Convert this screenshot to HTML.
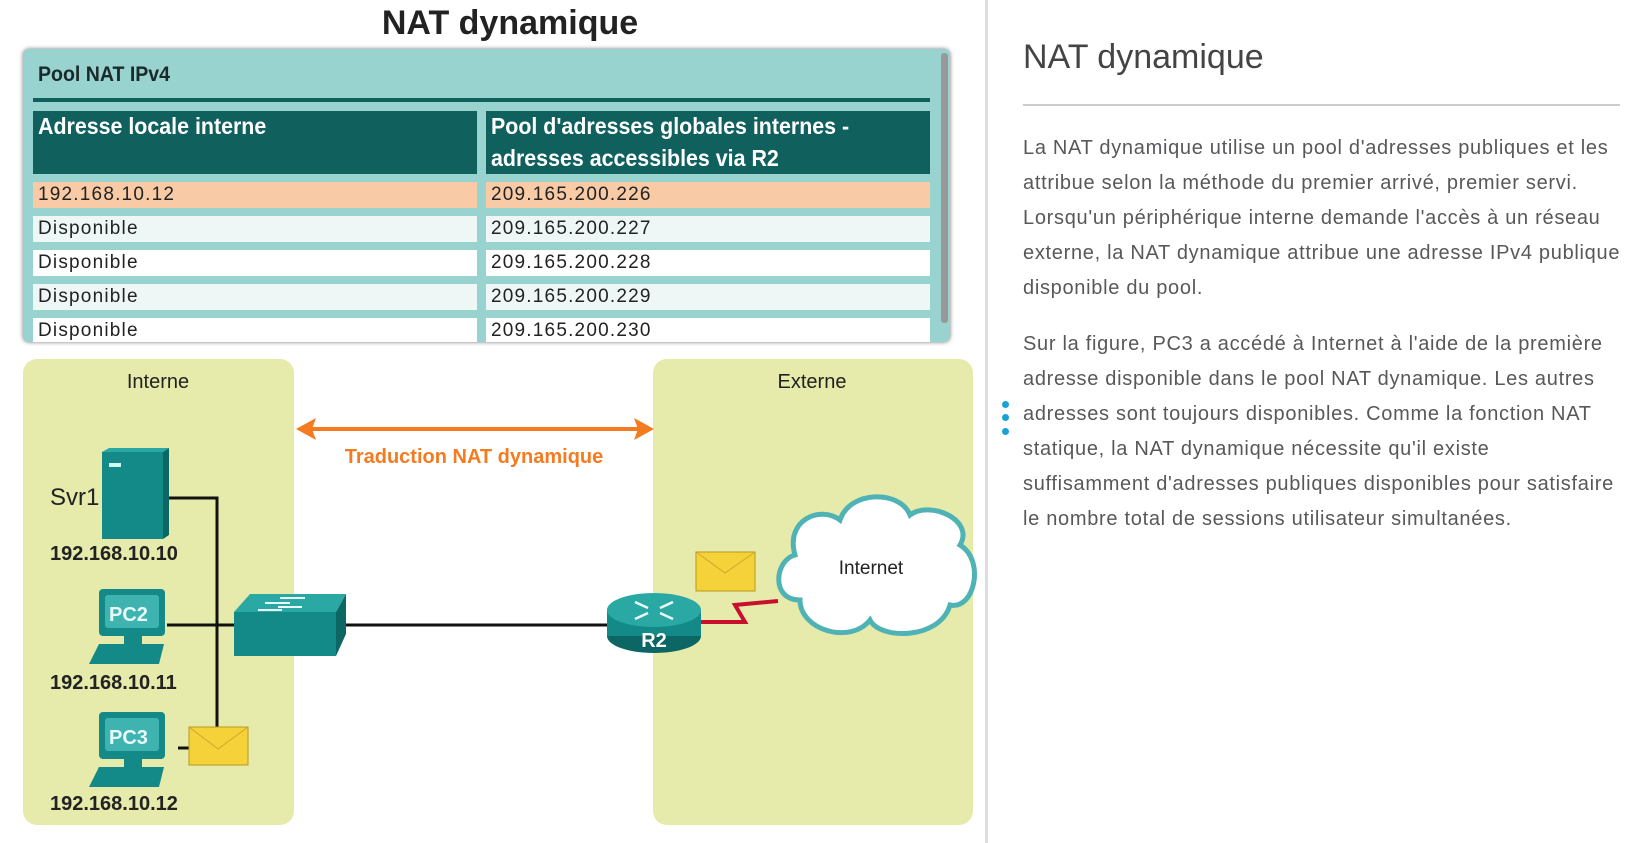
<!DOCTYPE html>
<html><head><meta charset="utf-8"><style>
body{margin:0;width:1634px;height:843px;background:#fff;font-family:"Liberation Sans",sans-serif;position:relative;overflow:hidden}
.a{position:absolute;white-space:nowrap}
.p{position:absolute;left:1023px;font-size:20px;letter-spacing:0.7px;color:#58585b;white-space:nowrap;line-height:35px}
.c{position:absolute;height:26px;font-size:19px;letter-spacing:1.2px;line-height:26px;color:#222;padding-left:5px;box-sizing:border-box}
</style></head><body>
<div class="a" style="left:0;width:1020px;top:4px;text-align:center;font-size:34px;font-weight:bold;color:#222">NAT dynamique</div>
<div class="a" style="left:23px;top:49px;width:927px;height:293px;background:#98d3d0;border-radius:6px;box-shadow:0 0 4px #777;overflow:hidden">
 <div class="a" style="left:15px;top:14px;font-size:21px;font-weight:bold;color:#1a2a2a;transform:scaleX(0.93);transform-origin:left">Pool NAT IPv4</div>
 <div class="a" style="left:10px;top:49px;width:897px;height:4px;background:#0f5f5c"></div>
 <div class="a" style="left:10px;top:62px;width:444px;height:63px;background:#10615e"></div>
 <div class="a" style="left:463px;top:62px;width:444px;height:63px;background:#10615e"></div>
 <div class="a" style="left:15px;top:61px;font-size:23px;font-weight:bold;color:#fff;line-height:32px;transform:scaleX(0.93);transform-origin:left">Adresse locale interne</div>
 <div class="a" style="left:468px;top:61px;font-size:23px;font-weight:bold;color:#fff;line-height:32px;transform:scaleX(0.93);transform-origin:left">Pool d'adresses globales internes -<br>adresses accessibles via R2</div>
 <div class="c" style="left:10px;top:133px;width:444px;background:#f8caa6">192.168.10.12</div>
 <div class="c" style="left:463px;top:133px;width:444px;background:#f8caa6">209.165.200.226</div>
 <div class="c" style="left:10px;top:167px;width:444px;background:#eef7f6">Disponible</div>
 <div class="c" style="left:463px;top:167px;width:444px;background:#eef7f6">209.165.200.227</div>
 <div class="c" style="left:10px;top:201px;width:444px;background:#fff">Disponible</div>
 <div class="c" style="left:463px;top:201px;width:444px;background:#fff">209.165.200.228</div>
 <div class="c" style="left:10px;top:235px;width:444px;background:#eef7f6">Disponible</div>
 <div class="c" style="left:463px;top:235px;width:444px;background:#eef7f6">209.165.200.229</div>
 <div class="c" style="left:10px;top:269px;width:444px;background:#fff">Disponible</div>
 <div class="c" style="left:463px;top:269px;width:444px;background:#fff">209.165.200.230</div>
 <div class="a" style="left:918px;top:4px;width:7px;height:270px;background:#999;border-radius:3px"></div>
</div>
<div class="a" style="left:985px;top:0;width:3px;height:843px;background:#ddd"></div>
<svg class="a" style="left:0;top:0" width="985" height="843">
 <rect x="23" y="359" width="271" height="466" rx="14" fill="#e6eaaa"/>
 <rect x="653" y="359" width="320" height="466" rx="14" fill="#e6eaaa"/>
 <text x="158" y="388" font-size="20" text-anchor="middle" fill="#222" font-family="Liberation Sans">Interne</text>
 <text x="812" y="388" font-size="20" text-anchor="middle" fill="#222" font-family="Liberation Sans">Externe</text>
 <line x1="308" y1="429" x2="642" y2="429" stroke="#f47b20" stroke-width="4"/>
 <polygon points="296,429 316,418 312,429 316,440" fill="#f47b20"/>
 <polygon points="654,429 634,418 638,429 634,440" fill="#f47b20"/>
 <text x="474" y="463" font-size="20" text-anchor="middle" fill="#f47b20" font-weight="bold" font-family="Liberation Sans">Traduction NAT dynamique</text>
 <g stroke="#111" stroke-width="3" fill="none">
  <polyline points="169,498 217,498 217,728"/>
  <line x1="167" y1="625" x2="607" y2="625"/>
  <line x1="178" y1="748" x2="190" y2="748"/>
 </g>
 <polyline points="701,622 745,622 735,605 778,601" stroke="#c8102e" stroke-width="4" fill="none"/>
 <rect x="102" y="452" width="61" height="87" fill="#138a87"/><polygon points="102,452 109,448 169,448 163,452" fill="#2aa9a4"/><polygon points="163,452 169,448 169,535 163,539" fill="#0c6663"/>
 <rect x="109" y="463" width="12" height="4" fill="#cfe"/>
 <text x="50" y="505" font-size="24" fill="#222" font-family="Liberation Sans">Svr1</text>
 <g font-size="20" font-weight="bold" fill="#222" font-family="Liberation Sans">
  <text x="50" y="560">192.168.10.10</text><text x="50" y="689">192.168.10.11</text><text x="50" y="810">192.168.10.12</text></g>
 <g fill="#138a87">
  <rect x="99" y="589" width="66" height="47" rx="4"/><rect x="124" y="636" width="18" height="8"/><polygon points="89,664 99,644 164,644 159,664"/>
  <rect x="99" y="712" width="66" height="47" rx="4"/><rect x="124" y="759" width="18" height="8"/><polygon points="89,787 99,767 164,767 159,787"/>
 </g>
 <rect x="105" y="595" width="54" height="33" rx="3" fill="#3fb3b0"/><rect x="105" y="718" width="54" height="33" rx="3" fill="#3fb3b0"/>
 <g font-size="20" font-weight="bold" fill="#e8fbfa" font-family="Liberation Sans"><text x="109" y="621">PC2</text><text x="109" y="744">PC3</text></g>
 <polygon points="234,612 250,594 346,594 336,612" fill="#2aa9a4"/><rect x="234" y="612" width="102" height="44" fill="#138a87"/><polygon points="336,612 346,594 346,634 336,656" fill="#0c6663"/>
 <g stroke="#e8fbfa" stroke-width="2"><line x1="280" y1="598" x2="305" y2="598"/><line x1="265" y1="603" x2="290" y2="603"/><line x1="278" y1="607" x2="302" y2="607"/><line x1="258" y1="610" x2="282" y2="610"/></g>
 <ellipse cx="654" cy="636" rx="47" ry="17" fill="#0c6663"/><rect x="607" y="610" width="94" height="26" fill="#138a87"/><ellipse cx="654" cy="610" rx="47" ry="17" fill="#2aa9a4"/>
 <g stroke="#e8fbfa" stroke-width="2.5"><line x1="635" y1="602" x2="648" y2="608"/><line x1="673" y1="602" x2="660" y2="608"/><line x1="635" y1="619" x2="648" y2="613"/><line x1="673" y1="619" x2="660" y2="613"/></g>
 <text x="654" y="647" font-size="20" font-weight="bold" fill="#fff" text-anchor="middle" font-family="Liberation Sans">R2</text>
 <path d="M800,600 C770,600 775,560 795,555 C785,520 820,505 840,520 C850,490 900,490 910,515 C930,500 975,520 960,545 C985,560 975,610 950,605 C940,640 880,640 870,620 C850,645 800,630 800,600Z" fill="#fff" stroke="#4fb3b5" stroke-width="5"/>
 <text x="871" y="574" font-size="19" fill="#222" text-anchor="middle" font-family="Liberation Sans">Internet</text>
 <rect x="189" y="727" width="59" height="38" fill="#f5d23a" stroke="#b89a20"/><polyline points="189,727 218,749 248,727" fill="none" stroke="#c9a92a"/>
 <rect x="696" y="552" width="59" height="39" fill="#f5d23a" stroke="#b89a20"/><polyline points="696,552 725,573 755,552" fill="none" stroke="#c9a92a"/>
</svg>
<div class="a" style="left:1023px;top:38px;font-size:34px;color:#444;font-weight:300">NAT dynamique</div>
<div class="a" style="left:1023px;top:104px;width:597px;height:2px;background:#ccc"></div>
<div class="p" style="top:131px">La NAT dynamique utilise un pool d'adresses publiques et les<br>attribue selon la méthode du premier arrivé, premier servi.<br>Lorsqu'un périphérique interne demande l'accès à un réseau<br>externe, la NAT dynamique attribue une adresse IPv4 publique<br>disponible du pool.</div>
<div class="p" style="top:327px">Sur la figure, PC3 a accédé à Internet à l'aide de la première<br>adresse disponible dans le pool NAT dynamique. Les autres<br>adresses sont toujours disponibles. Comme la fonction NAT<br>statique, la NAT dynamique nécessite qu'il existe<br>suffisamment d'adresses publiques disponibles pour satisfaire<br>le nombre total de sessions utilisateur simultanées.</div>
<div class="a" style="left:1002px;top:401px;width:7px;height:7px;border-radius:50%;background:#1ba0d7"></div>
<div class="a" style="left:1002px;top:414px;width:7px;height:7px;border-radius:50%;background:#1ba0d7"></div>
<div class="a" style="left:1002px;top:428px;width:7px;height:7px;border-radius:50%;background:#1ba0d7"></div>
</body></html>
